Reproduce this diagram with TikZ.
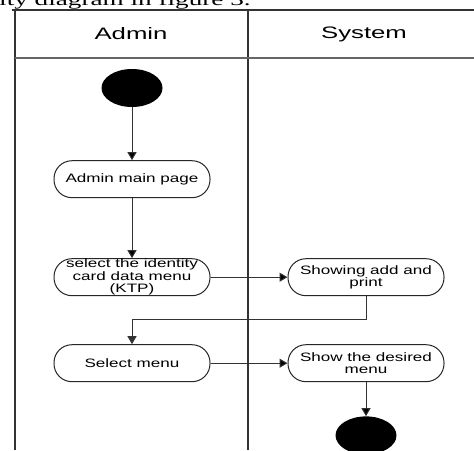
\documentclass[tikz,border=0pt]{standalone}
\usepackage{fontspec}
\setmainfont{Liberation Serif}
\newfontfamily\boxfont[FakeStretch=1.4]{Liberation Sans}
\newfontfamily\lanefont[FakeStretch=1.55]{Liberation Sans}
\newfontfamily\capfont[FakeStretch=1.6]{Liberation Serif}
\usetikzlibrary{arrows.meta,positioning,shapes.geometric}
\tikzset{
    %Define standard arrow tip
    >={Triangle[length=8pt,width=9pt]},
    %Define style for boxes
    action/.style={
           rectangle,
           rounded corners=18pt,
           draw=black!85, line width=1pt,
           minimum width=156pt,
           minimum height=37pt,
           inner sep=0pt,
           font=\boxfont\fontsize{12.2}{12.5}\selectfont,
           align=center},
    startnode/.style={
           ellipse,
           fill=black,
           minimum width=61pt,
           minimum height=38pt,
           inner sep=0pt},
    endnode/.style={
           startnode},
    lanehead/.style={
           inner sep=0pt,
           font=\lanefont\fontsize{16.6}{17}\selectfont},
    % Define lane lines
    lane/.style={
           draw=black!80,
           line width=1.8pt},
    laneline/.style={
           draw=black!60,
           line width=1.3pt},
    % Define arrow style
    pil/.style={
           ->,
           draw=black!80,
           line width=1pt}
}
\begin{document}
\begin{tikzpicture}[x=1pt,y=-1pt]
\useasboundingbox (0,0) rectangle (474,450);
\clip (0,0) rectangle (474,450);
 %caption
\node[anchor=base west, inner sep=0pt, font=\capfont\fontsize{17}{17}\selectfont] (cap) at (-1,5) {ity diagram in figure 3.};
 %lanes
\draw[lane] (12,10) -- (474,10);
\draw[lane] (15,10) -- (15,450);
\draw[lane] (248,10) -- (248,450);
\draw[laneline] (15,58) -- (474,58);
\node[lanehead] (admin) at (131,34) {Admin};
\node[lanehead] (system) at (364,34) {System};
 %nodes
\node[startnode] (start) at (132,88) {};
\node[action, below=53pt of start] (main) {Admin main page};
\node[action, below=60pt of main] (ktp) {select the identity\\card data menu\\(KTP)};
\node[action, right=77pt of ktp] (show) {Showing add and\\print};
\node[action, below=48pt of ktp] (menu) {Select menu};
\node[action, right=77pt of menu] (desired) {Show the desired\\menu};
\node[endnode, below=34pt of desired] (end) {};
 %edges
\path[pil]
    (start) edge (main)
    (main) edge (ktp)
    (ktp) edge (show)
    (menu) edge (desired)
    (desired) edge (end);
\draw[pil] (show.south) -- ++(0,23) -| (menu.north);
\end{tikzpicture}
\end{document}
